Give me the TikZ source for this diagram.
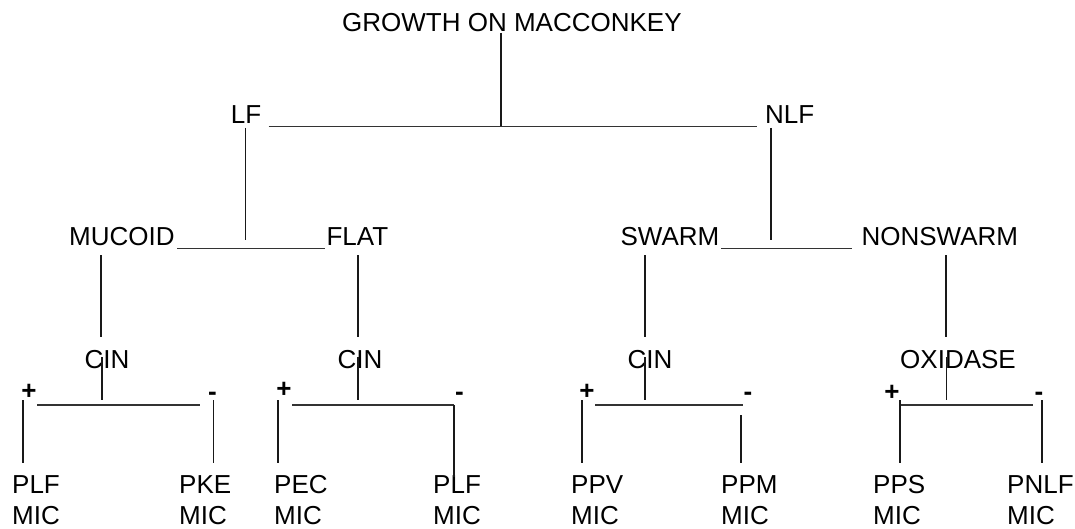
\documentclass[tikz,border=0pt]{standalone}
\usepackage{fontspec}
\setmainfont{Liberation Sans}
\begin{document}
\begin{tikzpicture}[x=1pt,y=-1pt,
  lbl/.style={font=\fontsize{26}{31}\selectfont, inner sep=0pt, anchor=base west},
  leaf/.style={font=\fontsize{26}{31}\selectfont, inner sep=0pt, anchor=north west, align=left},
  sgn/.style={font=\fontsize{26}{31}\selectfont\bfseries, inner sep=0pt, anchor=base},
  vconn/.style={line width=1.6pt, black!90},
  hconn/.style={line width=1.2pt, black!80}]
\useasboundingbox (0,0) rectangle (1075,529);

% ---- text nodes ----
\node[lbl] (title) at (342,31.7) {GROWTH ON MACCONKEY};
\node[lbl] (lf) at (230.7,123.3) {LF};
\node[lbl] (nlf) at (765,123.3) {NLF};
\node[lbl] (mucoid) at (68.9,245) {MUCOID};
\node[lbl] (flat) at (326.4,245) {FLAT};
\node[lbl] (swarm) at (620.4,245) {SWARM};
\node[lbl] (nonswarm) at (861.4,245) {NONSWARM};
\node[lbl] (cin1) at (84.4,368.3) {CIN};
\node[lbl] (cin2) at (337.5,368.3) {CIN};
\node[lbl] (cin3) at (627.3,368.3) {CIN};
\node[lbl] (oxi) at (900,368.3) {OXIDASE};

\node[leaf] (l1) at (12,475.4) {PLF\\MIC};
\node[leaf] (l2) at (179,475.4) {PKE\\MIC};
\node[leaf] (l3) at (274,475.4) {PEC\\MIC};
\node[leaf] (l4) at (433,475.4) {PLF\\MIC};
\node[leaf] (l5) at (571,475.4) {PPV\\MIC};
\node[leaf] (l6) at (721,475.4) {PPM\\MIC};
\node[leaf] (l7) at (873,475.4) {PPS\\MIC};
\node[leaf] (l8) at (1007,475.4) {PNLF\\MIC};

% ---- signs ----
\node[sgn] (p1) at (29,399) {+};
\node[sgn] (m1) at (212.5,400.5) {-};
\node[sgn] (p2) at (284,397.5) {+};
\node[sgn] (m2) at (459.5,400.5) {-};
\node[sgn] (p3) at (587,399) {+};
\node[sgn] (m3) at (748,400.5) {-};
\node[sgn] (p4) at (892,400) {+};
\node[sgn] (m4) at (1039,400.5) {-};

% ---- junction coordinates ----
\coordinate (tJ) at (501,33);
\coordinate (tB) at (501,126.7);
\coordinate (hL) at (268.6,126.7);
\coordinate (hR) at (757,126.7);
\coordinate (lfT) at (245.5,128);
\coordinate (lfB) at (245.5,240);
\coordinate (nlfT) at (771,128);
\coordinate (nlfB) at (771,240);
\coordinate (mfL) at (177.3,248.3);
\coordinate (mfR) at (324.7,248.3);
\coordinate (snL) at (721,248.3);
\coordinate (snR) at (851.8,248.3);

\coordinate (a1) at (100.9,255); \coordinate (b1) at (100.9,336.7);
\coordinate (a2) at (358.1,255); \coordinate (b2) at (358.1,336.7);
\coordinate (a3) at (645.2,255); \coordinate (b3) at (645.2,336.7);
\coordinate (a4) at (945.8,255); \coordinate (b4) at (945.8,336.7);

\coordinate (c1) at (102,357); \coordinate (d1) at (102,400);
\coordinate (c2) at (358.1,357); \coordinate (d2) at (358.1,400);
\coordinate (c3) at (645.2,357); \coordinate (d3) at (645.2,400);
\coordinate (c4) at (946.5,357); \coordinate (d4) at (946.5,400);

\coordinate (e1) at (37.2,405); \coordinate (f1) at (199.7,405);
\coordinate (e2) at (292,405); \coordinate (f2) at (453.9,405);
\coordinate (e3) at (595.3,405); \coordinate (f3) at (742.6,405);
\coordinate (e4) at (900,405); \coordinate (f4) at (1033.3,405);

\coordinate (g1) at (23,400); \coordinate (h1) at (23,463);
\coordinate (i1) at (213.3,400); \coordinate (j1) at (213.3,463);
\coordinate (g2) at (278.2,400); \coordinate (h2) at (278.2,463);
\coordinate (i2) at (453.9,405); \coordinate (j2) at (453.9,477);
\coordinate (g3) at (582.2,400); \coordinate (h3) at (582.2,463);
\coordinate (i3) at (741,415); \coordinate (j3) at (741,463);
\coordinate (g4) at (900,400); \coordinate (h4) at (900,463);
\coordinate (i4) at (1041.7,400); \coordinate (j4) at (1041.7,463);

% ---- connectors ----
\draw[vconn] (tJ) -- (tB);
\draw[hconn] (hL) -- (hR);
\draw[vconn] (lfT) -- (lfB);
\draw[vconn] (nlfT) -- (nlfB);
\draw[hconn] (mfL) -- (mfR);
\draw[hconn] (snL) -- (snR);
\foreach \k in {1,2,3,4}{
  \draw[vconn] (a\k) -- (b\k);
  \draw[vconn] (c\k) -- (d\k);
  \draw[hconn] (e\k) -- (f\k);
  \draw[vconn] (g\k) -- (h\k);
  \draw[vconn] (i\k) -- (j\k);
}
\end{tikzpicture}
\end{document}
